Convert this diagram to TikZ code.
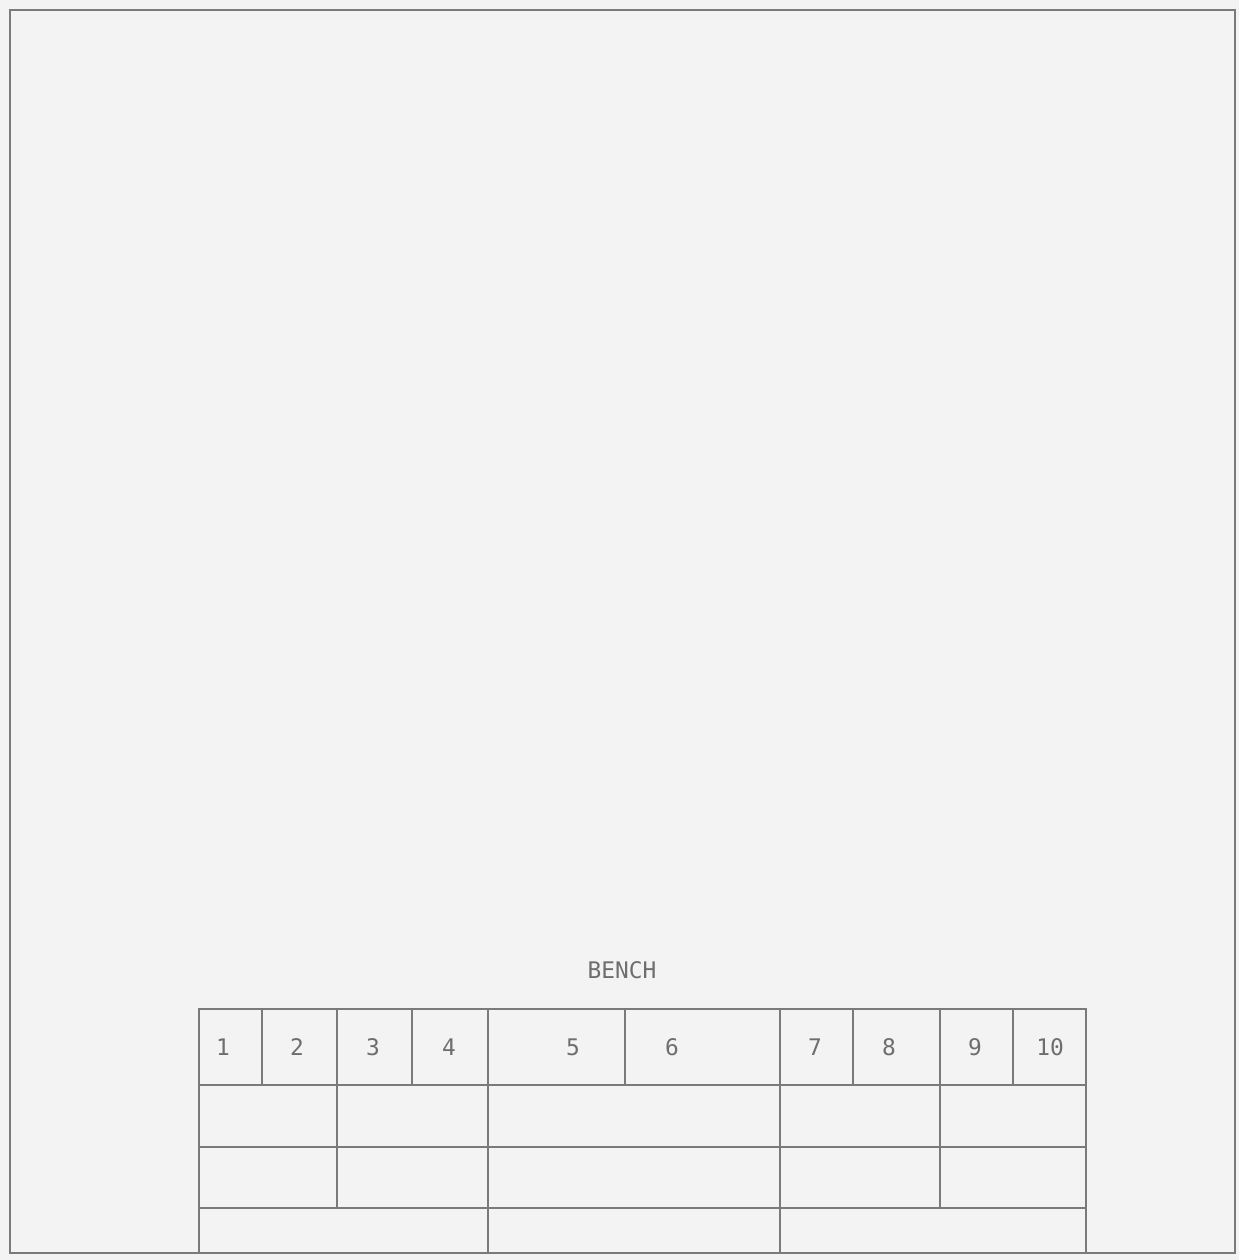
\documentclass[tikz,border=0pt]{standalone}
\usepackage{fontspec}
\setsansfont{DejaVu Sans Mono}
\usetikzlibrary{positioning}
\definecolor{paper}{HTML}{F3F3F3}
\definecolor{pen}{HTML}{7A7A7A}
\definecolor{penink}{HTML}{6E6E6E}

\begin{document}
\begin{tikzpicture}[x=0.02cm,y=-0.02cm,font=\sffamily\fontsize{13}{15}\selectfont,
  rule/.style={draw=pen,line width=1.1pt},
  slot/.style={text=penink,inner sep=1pt}]
  % sheet and frame
  \fill[paper] (0,0) rectangle (1239,1260);
  \useasboundingbox (0,0) rectangle (1239,1260);
  \draw[rule] (10,10) rectangle (1235,1253);
  % bench grid
  \draw[rule] (199,1009) rectangle (1086,1253);
  \draw[rule] (199,1085) -- (1086,1085);
  \draw[rule] (199,1147) -- (1086,1147);
  \draw[rule] (199,1208) -- (1086,1208);
  \foreach \xc in {262,412,625,853,1013}
    \draw[rule] (\xc,1009) -- (\xc,1085);
  \foreach \xc in {337,940}
    \draw[rule] (\xc,1009) -- (\xc,1208);
  \foreach \xc in {488,780}
    \draw[rule] (\xc,1009) -- (\xc,1253);
  % labels
  \node[slot] (bench) at (622,970) {BENCH};
  \foreach \xc/\num in {223/1,297/2,373/3,449/4,573/5,672/6,815/7,889/8,975/9,1050/10}
    \node[slot] (s\num) at (\xc,1047) {\num};
\end{tikzpicture}
\end{document}
